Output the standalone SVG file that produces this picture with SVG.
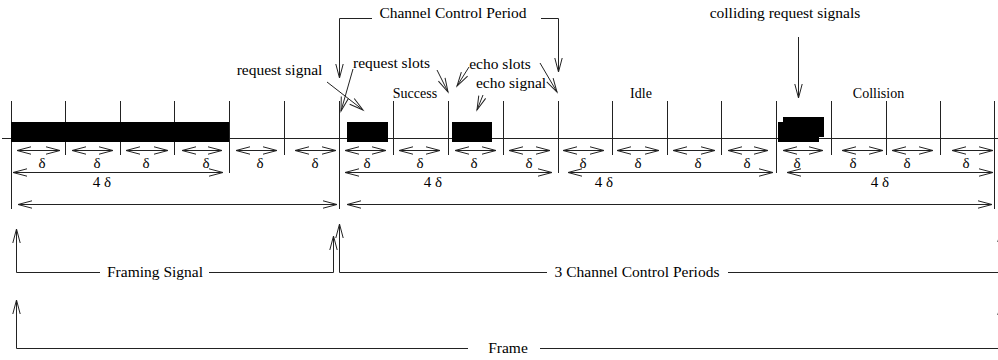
<svg xmlns="http://www.w3.org/2000/svg" width="998" height="360" viewBox="0 0 998 360">
<style>
.l{stroke:#222;stroke-width:1;fill:none}
.t{font-family:"Liberation Serif","Times New Roman",serif;font-size:15.5px;fill:#000;text-anchor:middle}
.s{font-size:14px}
.d{font-size:15px}
.blk{fill:#000;stroke:none}
</style>
<defs>
<marker id="ah" markerUnits="userSpaceOnUse" markerWidth="18" markerHeight="10" refX="14" refY="5" orient="auto-start-reverse" overflow="visible">
<path d="M0 1.3 L14 5 L0 8.7" fill="none" stroke="#222" stroke-width="1"/>
</marker>
</defs>

<g id="timeline">
<line class="l" x1="2" y1="138.5" x2="998" y2="138.5"/>
<g id="ticks">
<line class="l" x1="11.5" y1="101" x2="11.5" y2="209"/>
<line class="l" x1="65.5" y1="101" x2="65.5" y2="155"/>
<line class="l" x1="120.5" y1="101" x2="120.5" y2="155"/>
<line class="l" x1="174.5" y1="101" x2="174.5" y2="155"/>
<line class="l" x1="229.5" y1="101" x2="229.5" y2="173"/>
<line class="l" x1="284.5" y1="101" x2="284.5" y2="155"/>
<line class="l" x1="339.5" y1="101" x2="339.5" y2="209"/>
<line class="l" x1="393.5" y1="101" x2="393.5" y2="155"/>
<line class="l" x1="448.5" y1="101" x2="448.5" y2="155"/>
<line class="l" x1="503.5" y1="101" x2="503.5" y2="155"/>
<line class="l" x1="558.5" y1="101" x2="558.5" y2="173"/>
<line class="l" x1="612.5" y1="101" x2="612.5" y2="155"/>
<line class="l" x1="667.5" y1="101" x2="667.5" y2="155"/>
<line class="l" x1="721.5" y1="101" x2="721.5" y2="155"/>
<line class="l" x1="776.5" y1="101" x2="776.5" y2="173"/>
<line class="l" x1="831.5" y1="101" x2="831.5" y2="155"/>
<line class="l" x1="886.5" y1="101" x2="886.5" y2="155"/>
<line class="l" x1="940.5" y1="101" x2="940.5" y2="155"/>
<line class="l" x1="994.5" y1="101" x2="994.5" y2="209"/>
</g>
</g>

<g id="signals">
<rect id="framing-signal" class="blk" x="11" y="122" width="218" height="20"/>
<rect id="request-signal" class="blk" x="347" y="122" width="41" height="20"/>
<rect id="echo-signal" class="blk" x="452" y="122" width="40" height="20"/>
<g id="colliding-signals">
<rect class="blk" x="783" y="117" width="41" height="20"/>
<rect class="blk" x="778" y="122" width="41" height="20"/>
</g>
</g>

<g id="connectors">
<g id="delta-arrows">
<line class="l" x1="17" y1="150.5" x2="60" y2="150.5" marker-start="url(#ah)" marker-end="url(#ah)"/>
<line class="l" x1="72" y1="150.5" x2="113" y2="150.5" marker-start="url(#ah)" marker-end="url(#ah)"/>
<line class="l" x1="126" y1="150.5" x2="168" y2="150.5" marker-start="url(#ah)" marker-end="url(#ah)"/>
<line class="l" x1="182" y1="150.5" x2="222" y2="150.5" marker-start="url(#ah)" marker-end="url(#ah)"/>
<line class="l" x1="236" y1="150.5" x2="277" y2="150.5" marker-start="url(#ah)" marker-end="url(#ah)"/>
<line class="l" x1="295" y1="150.5" x2="336" y2="150.5" marker-start="url(#ah)" marker-end="url(#ah)"/>
<line class="l" x1="345" y1="150.5" x2="386" y2="150.5" marker-start="url(#ah)" marker-end="url(#ah)"/>
<line class="l" x1="399" y1="150.5" x2="440" y2="150.5" marker-start="url(#ah)" marker-end="url(#ah)"/>
<line class="l" x1="455" y1="150.5" x2="496" y2="150.5" marker-start="url(#ah)" marker-end="url(#ah)"/>
<line class="l" x1="509" y1="150.5" x2="550" y2="150.5" marker-start="url(#ah)" marker-end="url(#ah)"/>
<line class="l" x1="563" y1="150.5" x2="604" y2="150.5" marker-start="url(#ah)" marker-end="url(#ah)"/>
<line class="l" x1="617" y1="150.5" x2="659" y2="150.5" marker-start="url(#ah)" marker-end="url(#ah)"/>
<line class="l" x1="673" y1="150.5" x2="715" y2="150.5" marker-start="url(#ah)" marker-end="url(#ah)"/>
<line class="l" x1="728" y1="150.5" x2="768" y2="150.5" marker-start="url(#ah)" marker-end="url(#ah)"/>
<line class="l" x1="783" y1="150.5" x2="823" y2="150.5" marker-start="url(#ah)" marker-end="url(#ah)"/>
<line class="l" x1="842" y1="150.5" x2="883" y2="150.5" marker-start="url(#ah)" marker-end="url(#ah)"/>
<line class="l" x1="892" y1="150.5" x2="933" y2="150.5" marker-start="url(#ah)" marker-end="url(#ah)"/>
<line class="l" x1="952" y1="150.5" x2="993" y2="150.5" marker-start="url(#ah)" marker-end="url(#ah)"/>
</g>
<g id="four-delta-arrows">
<line class="l" x1="13" y1="172.5" x2="223" y2="172.5" marker-start="url(#ah)" marker-end="url(#ah)"/>
<line class="l" x1="345" y1="172.5" x2="552" y2="172.5" marker-start="url(#ah)" marker-end="url(#ah)"/>
<line class="l" x1="568" y1="172.5" x2="773" y2="172.5" marker-start="url(#ah)" marker-end="url(#ah)"/>
<line class="l" x1="787" y1="172.5" x2="993" y2="172.5" marker-start="url(#ah)" marker-end="url(#ah)"/>
</g>
<g id="span-arrows">
<line class="l" x1="18" y1="204.5" x2="337" y2="204.5" marker-start="url(#ah)" marker-end="url(#ah)"/>
<line class="l" x1="347" y1="204.5" x2="992" y2="204.5" marker-start="url(#ah)" marker-end="url(#ah)"/>
</g>
<g id="top-pointers">
<path class="l" d="M372 18.5 H339.5 V78" marker-end="url(#ah)"/>
<path class="l" d="M541 18.5 H558.5 V72" marker-end="url(#ah)"/>
<line class="l" x1="798.5" y1="37" x2="798.5" y2="98" marker-end="url(#ah)"/>
<line class="l" x1="327" y1="82" x2="363" y2="110" marker-end="url(#ah)"/>
<line class="l" x1="353" y1="69" x2="341" y2="111" marker-end="url(#ah)"/>
<line class="l" x1="437" y1="70" x2="448" y2="92" marker-end="url(#ah)"/>
<line class="l" x1="469" y1="67" x2="457" y2="86" marker-end="url(#ah)"/>
<line class="l" x1="540" y1="63" x2="557" y2="92" marker-end="url(#ah)"/>
<line class="l" x1="483" y1="95" x2="477" y2="110" marker-end="url(#ah)"/>
</g>
<g id="bottom-brackets">
<path class="l" d="M100 272.5 H16.5 V229" marker-end="url(#ah)"/>
<path class="l" d="M209 272.5 H333.5 V236" marker-end="url(#ah)"/>
<path class="l" d="M547 272.5 H339.5 V224" marker-end="url(#ah)"/>
<path class="l" d="M728 272.5 H1001.5 V228" marker-end="url(#ah)"/>
<path class="l" d="M468 348.5 H16.5 V300" marker-end="url(#ah)"/>
<path class="l" d="M540 348.5 H1001.5 V301" marker-end="url(#ah)"/>
</g>
</g>

<g id="labels">
<text class="t" x="453" y="18">Channel Control Period</text>
<text class="t" x="785" y="18">colliding request signals</text>
<text class="t" x="279.5" y="75">request signal</text>
<text class="t" x="391.5" y="68">request slots</text>
<text class="t" x="500" y="69">echo slots</text>
<text class="t" x="511" y="88">echo signal</text>
<text class="t s" x="415" y="98">Success</text>
<text class="t s" x="641" y="98">Idle</text>
<text class="t s" x="878.5" y="98">Collision</text>
<g id="delta-labels" class="t d">
<text x="42" y="168">δ</text><text x="97" y="168">δ</text><text x="146" y="168">δ</text><text x="206" y="168">δ</text>
<text x="260" y="168">δ</text><text x="315" y="168">δ</text>
<text x="367" y="168">δ</text><text x="420" y="168">δ</text><text x="474" y="168">δ</text><text x="529" y="168">δ</text>
<text x="583" y="168">δ</text><text x="638" y="168">δ</text><text x="698" y="168">δ</text><text x="747" y="168">δ</text>
<text x="797" y="168">δ</text><text x="853" y="168">δ</text><text x="907" y="168">δ</text><text x="966" y="168">δ</text>
</g>
<g class="t d">
<text x="102" y="187">4 δ</text>
<text x="433" y="187">4 δ</text>
<text x="604" y="187">4 δ</text>
<text x="880" y="187">4 δ</text>
</g>
<text class="t" x="155" y="277">Framing Signal</text>
<text class="t" x="637" y="277">3 Channel Control Periods</text>
<text class="t" x="508" y="353">Frame</text>
</g>
</svg>
